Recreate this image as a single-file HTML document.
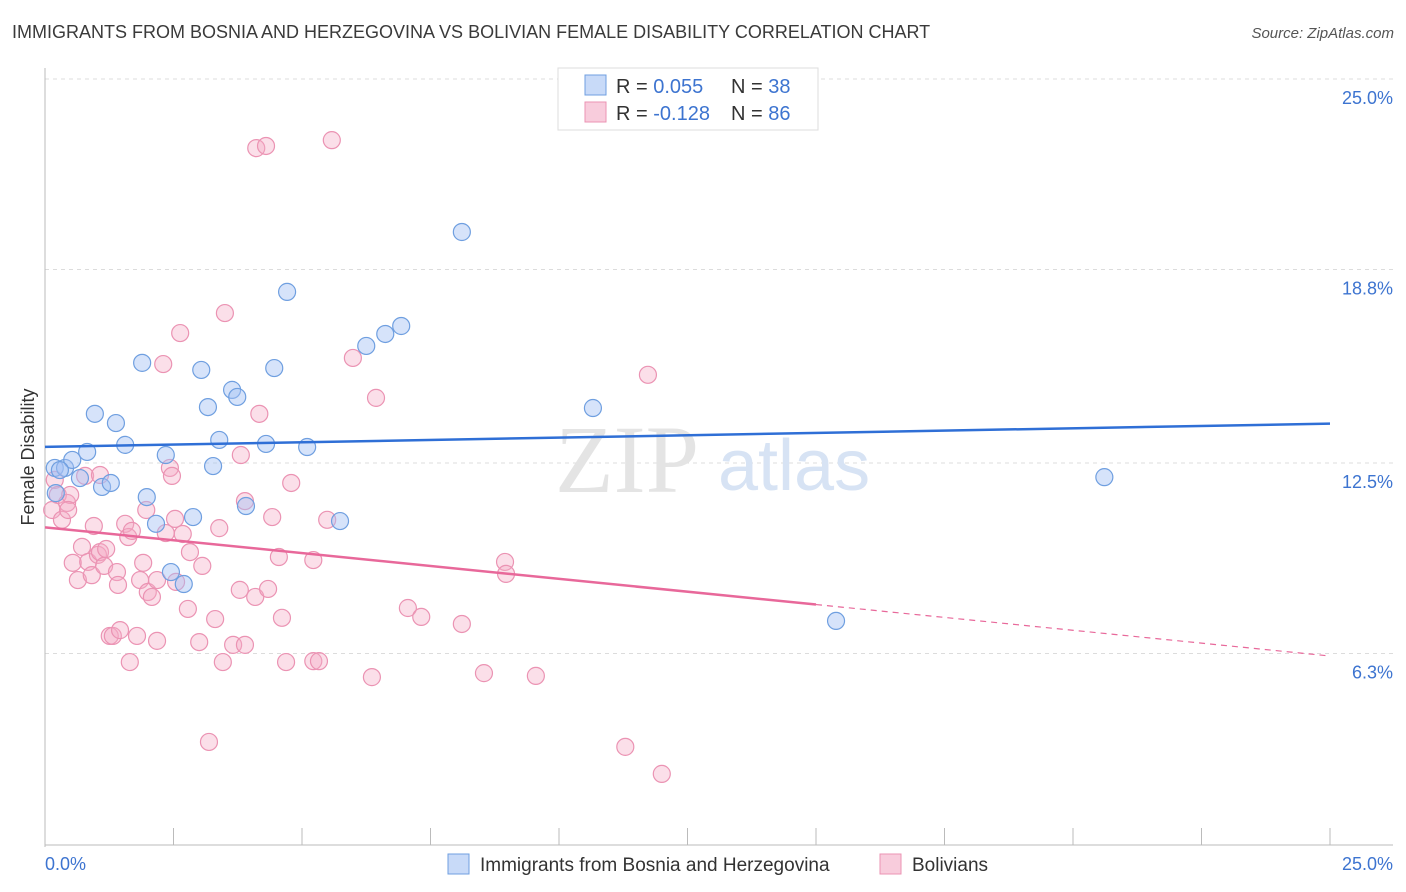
<!DOCTYPE html>
<html><head><meta charset="utf-8">
<style>
body{margin:0;background:#fff;font-family:"Liberation Sans",sans-serif;}
#wrap{position:relative;width:1406px;height:892px;overflow:hidden;}
.title{position:absolute;left:12px;top:22px;font-size:18px;color:#3a3a3a;}
.source{position:absolute;right:12px;top:25px;font-size:15px;color:#555;font-style:italic;}
</style></head><body>
<div id="wrap">
<div class="title">IMMIGRANTS FROM BOSNIA AND HERZEGOVINA VS BOLIVIAN FEMALE DISABILITY CORRELATION CHART</div>
<div class="source">Source: ZipAtlas.com</div>
<svg id="svg" width="1406" height="892" style="position:absolute;left:0;top:0"></svg>
</div>
<script>
const yTicks=[25.0,18.8,12.5,6.3];
const yTickLabels=["25.0%","18.8%","12.5%","6.3%"];
const blueX=[0.19,0.39,0.82,0.68,0.53,0.97,1.38,1.56,1.11,1.28,1.89,1.98,2.16,2.35,2.45,2.70,2.88,3.04,3.17,3.27,3.39,3.64,3.74,3.91,4.30,4.46,4.71,5.10,5.74,6.25,6.62,6.93,8.11,10.66,15.39,20.61,0.21,0.29];
const blueY=[12.34,12.34,12.86,12.01,12.60,14.10,13.80,13.09,11.72,11.85,15.76,11.39,10.52,12.76,8.95,8.56,10.74,15.53,14.32,12.40,13.25,14.88,14.65,11.10,13.12,15.59,18.07,13.02,10.61,16.31,16.70,16.96,20.02,14.29,7.36,12.04,11.52,12.27];
const pinkX=[0.19,0.25,0.14,0.33,0.43,0.49,0.45,0.54,0.64,0.72,0.78,0.84,0.91,0.95,1.03,1.07,1.15,1.19,1.26,1.32,1.40,1.42,1.46,1.56,1.62,1.65,1.69,1.85,1.91,1.97,2.00,2.08,2.18,2.18,2.30,2.35,2.43,2.47,2.53,2.55,2.63,2.68,2.78,2.82,3.00,3.06,3.19,3.31,3.39,3.46,3.50,3.66,3.81,3.89,3.89,4.09,4.11,4.17,4.30,4.34,4.42,4.55,4.61,4.69,4.79,5.22,5.22,5.33,5.49,5.58,5.99,6.36,6.44,7.06,7.32,8.11,8.54,8.95,8.97,9.55,11.29,11.73,12.00,3.79,1.79,1.07];
const pinkY=[11.95,11.46,10.97,10.65,11.20,11.46,10.97,9.25,8.69,9.77,12.08,9.28,8.85,10.45,9.51,9.60,9.15,9.70,6.87,6.87,8.95,8.53,7.06,10.52,10.09,6.02,10.29,8.69,9.25,10.97,8.30,8.14,8.69,6.71,15.72,10.22,12.34,12.08,10.68,8.63,16.73,10.19,7.75,9.60,6.67,9.15,3.42,7.42,10.38,6.02,17.38,6.58,12.76,11.26,6.58,8.14,22.75,14.10,22.82,8.40,10.74,9.44,7.46,6.02,11.85,9.34,6.05,6.05,10.65,23.01,15.92,5.53,14.62,7.78,7.49,7.26,5.66,9.28,8.89,5.57,3.26,15.37,2.38,8.37,6.87,12.11];
const X0=45,X1=1330,Ytop=79,Ybot=847;
function xs(v){return X0+(v/25)*(X1-X0);}
function ys(v){return Ybot-(v/25)*(Ybot-Ytop);}
const svg=document.getElementById('svg');const NS='http://www.w3.org/2000/svg';
function mk(t,a,p){const e=document.createElementNS(NS,t);for(const k in a)e.setAttribute(k,a[k]);(p||svg).appendChild(e);return e;}
// grid
yTicks.forEach((t,i)=>{
 const g=mk('line',{x1:X0,x2:1393,y1:ys(t),y2:ys(t),stroke:'#dcdcdc','stroke-dasharray':'4,4'});
 
 
 const l=mk('text',{x:1393,y:ys(t)+25,'text-anchor':'end','font-size':18,fill:'#3d74d0','font-family':'Liberation Sans'});
 l.textContent=yTickLabels[i];
 
 
});
// axes
const ya=mk('line',{x1:X0,x2:X0,y1:68,y2:847,stroke:'#bbb'});


const xa=mk('line',{x1:X0,x2:1393,y1:845,y2:845,stroke:'#bbb'});


for(let i=0;i<=10;i++){const t=mk('line',{x1:xs(i*2.5),x2:xs(i*2.5),y1:828,y2:845,stroke:'#bbb'});
 
 }
[['0.0%',45,'start'],['25.0%',1393,'end']].forEach(a=>{const t=mk('text',{x:a[1],y:870,'text-anchor':a[2],'font-size':18,fill:'#3d74d0'});t.textContent=a[0];
 
 });
const yt=mk('text',{x:34,y:457,'text-anchor':'middle','font-size':18,fill:'#333',transform:'rotate(-90 34 457)'});yt.textContent='Female Disability';


// watermark
const wm=mk('text',{x:555,y:492,'font-size':96,fill:'#e4e4e4','font-family':'Liberation Serif'});wm.textContent='ZIP';


const wm2=mk('text',{x:718,y:490,'font-size':72,fill:'#d7e3f4','font-family':'Liberation Sans'});wm2.textContent='atlas';


function pts(X,Y,fill,stroke,name){X.forEach((x,i)=>{const c=mk('circle',{cx:xs(x),cy:ys(Y[i]),r:8.5,fill:fill,stroke:stroke,'stroke-width':1.2});
 
 });}
pts(pinkX,pinkY,'rgba(244,170,196,0.38)','#eb93b3','bolivians-point');
pts(blueX,blueY,'rgba(164,194,244,0.45)','#6f9fe0','bosnia-point');
function reg(X,Y){const n=X.length;let mx=0,my=0;for(let i=0;i<n;i++){mx+=X[i];my+=Y[i];}mx/=n;my/=n;let sxy=0,sxx=0;for(let i=0;i<n;i++){sxy+=(X[i]-mx)*(Y[i]-my);sxx+=(X[i]-mx)**2;}const b=sxy/sxx;return [my-b*mx,b];}
const rb=reg(blueX,blueY),rp=reg(pinkX,pinkY);
const bl=mk('line',{x1:xs(0),y1:ys(rb[0]),x2:xs(25),y2:ys(rb[0]+rb[1]*25),stroke:'#2f6fd6','stroke-width':2.5});


const pl=mk('line',{x1:xs(0),y1:ys(rp[0]),x2:xs(15),y2:ys(rp[0]+rp[1]*15),stroke:'#e8689a','stroke-width':2.5});


const pd=mk('line',{x1:xs(15),y1:ys(rp[0]+rp[1]*15),x2:xs(25),y2:ys(rp[0]+rp[1]*25),stroke:'#e8689a','stroke-width':1.2,'stroke-dasharray':'6,5'});


// top legend
const lb=mk('rect',{x:558,y:68,width:260,height:62,fill:'#fff',stroke:'#ddd'});


[['R = ','0.055','38','rgba(164,194,244,0.6)','#6f9fe0',86],['R = ','-0.128','86','rgba(244,170,196,0.6)','#eb93b3',113]].forEach((r,i)=>{
 const s=mk('rect',{x:585,y:r[5]-11,width:21,height:20,fill:r[3],stroke:r[4]});
 
 
 const t=mk('text',{x:616,y:r[5]+7,'font-size':20,fill:'#333'});
 t.innerHTML='R = <tspan fill="#3d74d0">'+r[1]+'</tspan><tspan x="731">N = </tspan><tspan fill="#3d74d0">'+r[2]+'</tspan>';
 
 
});
// bottom legend
[['Immigrants from Bosnia and Herzegovina',448,'rgba(164,194,244,0.6)','#6f9fe0'],['Bolivians',880,'rgba(244,170,196,0.6)','#eb93b3']].forEach(r=>{
 const s=mk('rect',{x:r[1],y:854,width:21,height:20,fill:r[2],stroke:r[3]});
 
 
 const t=mk('text',{x:r[1]+32,y:871,'font-size':19,fill:'#333'});t.textContent=r[0];
 
 
});
</script>
</body></html>
